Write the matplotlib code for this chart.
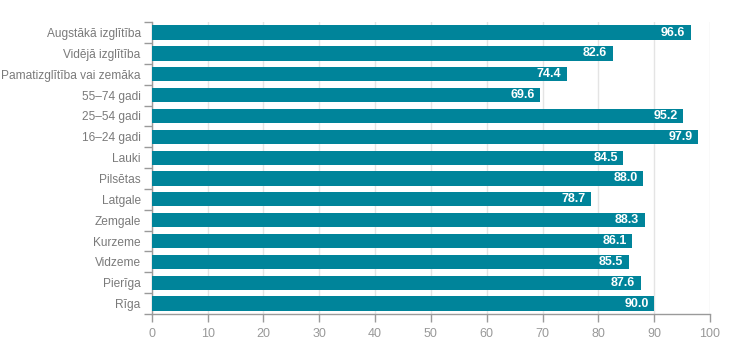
import matplotlib
matplotlib.use("Agg")
import matplotlib.pyplot as plt
import numpy as np

categories = [
    "Augstākā izglītība",
    "Vidējā izglītība",
    "Pamatizglītība vai zemāka",
    "55–74 gadi",
    "25–54 gadi",
    "16–24 gadi",
    "Lauki",
    "Pilsētas",
    "Latgale",
    "Zemgale",
    "Kurzeme",
    "Vidzeme",
    "Pierīga",
    "Rīga",
]
values = [96.6, 82.6, 74.4, 69.6, 95.2, 97.9, 84.5, 88.0, 78.7, 88.3, 86.1, 85.5, 87.6, 90.0]
x_ticks = [0, 10, 20, 30, 40, 50, 60, 70, 80, 90, 100]

plt.rcParams["font.family"] = ["Liberation Sans", "DejaVu Sans"]

fig = plt.figure(figsize=(7.3, 3.46), dpi=100)
ax = fig.add_axes([0.208, 0.0925, 0.7646, 0.8435])

n = len(categories)
pos = np.arange(n)
bar_color = "#00849a"
ax.barh(pos, values, height=0.68, color=bar_color, zorder=3)

for p, v in zip(pos, values):
    ax.text(v - 1.0, p, f"{v:.1f}", ha="right", va="center", color="white",
            fontsize=9, fontweight="bold", zorder=4)

ax.set_ylim(n - 0.5, -0.5)
ax.set_xlim(0, 100)
ax.set_yticks(pos)
ax.set_yticklabels(categories)
ax.set_yticks(np.arange(-0.5, n, 1), minor=True)
ax.set_xticks(x_ticks)

grey = "#9a9a9a"
ax.tick_params(axis="y", which="major", length=0, pad=8, labelsize=8.6, labelcolor="#7a7a7a")
ax.tick_params(axis="y", which="minor", length=6, color=grey, width=1)
ax.tick_params(axis="x", which="major", length=6, color=grey, width=1, labelsize=9,
               labelcolor="#999999", pad=4)

ax.grid(axis="x", color="#e4e4e4", linewidth=1, zorder=0)
for side in ["top", "right"]:
    ax.spines[side].set_visible(False)
for side in ["left", "bottom"]:
    ax.spines[side].set_color(grey)
    ax.spines[side].set_linewidth(1)

fig.savefig("out.png", dpi=100)
